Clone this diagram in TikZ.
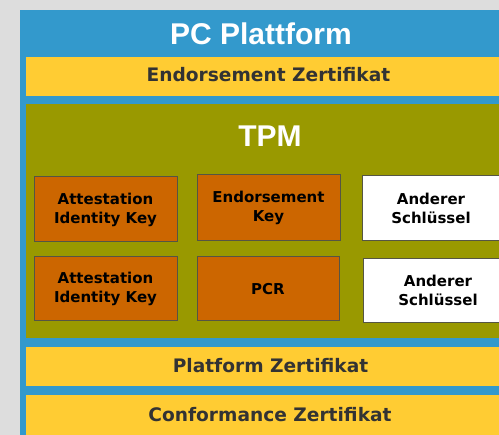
\documentclass[tikz,border=0pt]{standalone}
\usepackage{fontspec}
\newfontfamily\titlefont{Liberation Sans}
\newfontfamily\bodyfont{DejaVu Sans}
\definecolor{bgGray}{HTML}{DDDDDD}
\definecolor{pcBlue}{HTML}{3399CC}
\definecolor{certYellow}{HTML}{FFCC33}
\definecolor{tpmOlive}{HTML}{999900}
\definecolor{keyOrange}{HTML}{CC6600}
\definecolor{boxEdge}{HTML}{555544}
\definecolor{darkText}{HTML}{333333}
\tikzset{
  band/.style={fill=certYellow, draw=none},
  bandtext/.style={font=\bodyfont\bfseries\fontsize{18.6}{20}\selectfont, text=darkText, anchor=base, inner sep=0pt},
  titletext/.style={font=\titlefont\bfseries\fontsize{30}{32}\selectfont, text=white, anchor=base, inner sep=0pt},
  keybox/.style={draw=boxEdge, line width=1pt, fill=keyOrange, align=center, inner sep=0pt,
    font=\bodyfont\bfseries\fontsize{15}{19}\selectfont, text=black},
  otherbox/.style={keybox, fill=white},
}
\begin{document}
\begin{tikzpicture}[x=1pt,y=-1pt]
\useasboundingbox (0,0) rectangle (499,435);
\clip (0,0) rectangle (499,435);
\fill[bgGray] (0,0) rectangle (499,435);
\fill[pcBlue] (20,10) rectangle (520,440);
\fill[band] (26,57) rectangle (520,96);
\fill[tpmOlive] (26,104) rectangle (520,338);
\fill[band] (26,347) rectangle (520,386);
\fill[band] (26,395) rectangle (520,440);

\node[titletext] (pc) at (261,45) {PC Plattform};
\node[bandtext] (ez) at (268.5,82) {Endorsement Zertifikat};
\node[titletext] (tpm) at (270,147) {TPM};
\node[bandtext] (pz) at (270.5,373) {Platform Zertifikat};
\node[bandtext] (cz) at (270,422) {Conformance Zertifikat};

\node[keybox, minimum width=143pt, minimum height=65pt] (aik1) at (105.5,209.5) {Attestation\\Identity Key};
\node[keybox, minimum width=143pt, minimum height=66pt] (ek) at (268.5,208) {Endorsement\\Key};
\node[otherbox, minimum width=148pt, minimum height=65pt, anchor=north west] (ak1) at (362,175) {};
\node (ak1t) [font=\bodyfont\bfseries\fontsize{15}{19}\selectfont, align=center, inner sep=0pt] at (431,208) {Anderer\\Schlüssel};
\node[keybox, minimum width=143pt, minimum height=64pt] (aik2) at (105.5,289) {Attestation\\Identity Key};
\node[keybox, minimum width=142pt, minimum height=64pt] (pcr) at (268,289) {PCR};
\node[otherbox, minimum width=148pt, minimum height=64pt, anchor=north west] (ak2) at (363,258) {};
\node (ak2t) [font=\bodyfont\bfseries\fontsize{15}{19}\selectfont, align=center, inner sep=0pt] at (438,290) {Anderer\\Schlüssel};
\end{tikzpicture}
\end{document}
